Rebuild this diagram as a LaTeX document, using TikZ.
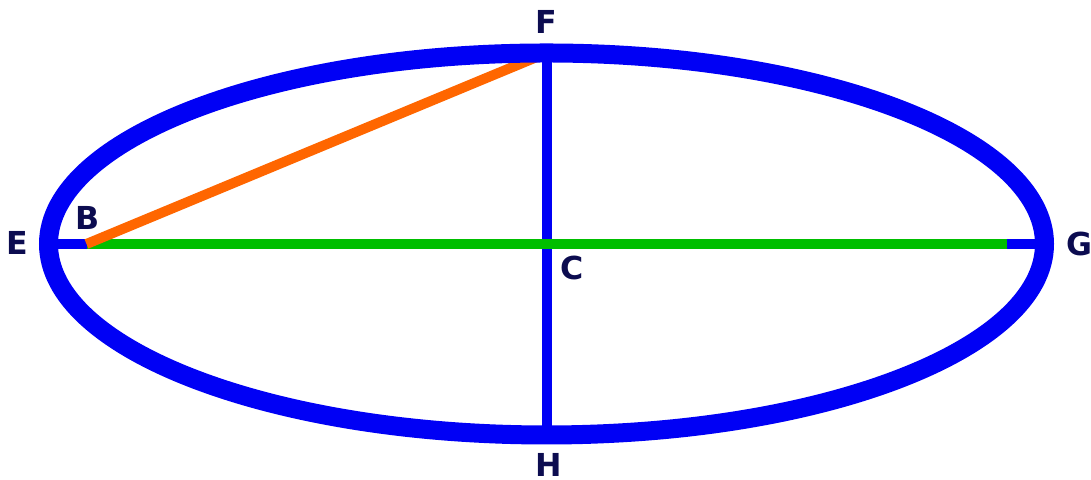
\documentclass[tikz,border=0pt]{standalone}
\usepackage{fontspec}
\setsansfont{DejaVu Sans}
\definecolor{ringblue}{RGB}{0,0,245}
\definecolor{focusgreen}{RGB}{0,190,0}
\definecolor{radiusorange}{RGB}{255,102,0}
\definecolor{labelnavy}{RGB}{12,12,80}
\tikzset{
  lbl/.style={text=labelnavy, font=\sffamily\bfseries\fontsize{9}{9}\selectfont, inner sep=0pt},
  axis/.style={draw=ringblue, line width=0.1cm},
}

\begin{document}
\begin{tikzpicture}
        \useasboundingbox (0,0) rectangle (10.91,4.80);
        \coordinate (C) at (5.465,2.36);
        \coordinate (E) at (0.485,2.36);
        \coordinate (G) at (10.445,2.36);
        \coordinate (F) at (5.465,4.27);
        \coordinate (H) at (5.465,0.45);
        \coordinate (B) at (0.865,2.36);
        \coordinate (B2) at (10.065,2.36);
        \draw[axis] (E) -- (G);
        \draw[axis] (F) -- (H);
        \draw[draw=focusgreen, line width=0.095cm] (B) -- (B2);
        \draw[draw=radiusorange, line width=0.1cm] (B) -- (F);
        \draw[draw=ringblue, line width=0.19cm] (C) ellipse [x radius=4.98, y radius=1.91];
        \node[lbl] (lE) at (0.17,2.37) {E};
        \node[lbl] (lG) at (10.79,2.36) {G};
        \node[lbl] (lF) at (5.46,4.58) {F};
        \node[lbl] (lH) at (5.49,0.15) {H};
        \node[lbl] (lB) at (0.88,2.62) {B};
        \node[lbl] (lC) at (5.72,2.12) {C};
    \end{tikzpicture}
\end{document}
